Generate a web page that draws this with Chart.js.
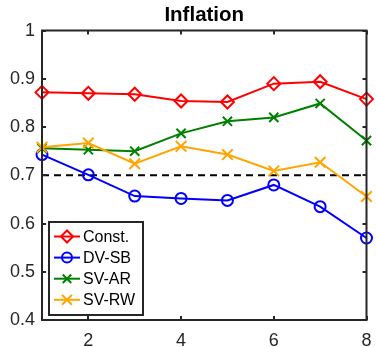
<!DOCTYPE html>
<html>
<head>
<meta charset="utf-8">
<script src="https://cdn.jsdelivr.net/npm/chart.js@4"></script>
<style>
html,body{margin:0;padding:0;background:#fff;}
#wrap{width:376px;height:347px;}
</style>
</head>
<body>
<div id="wrap"><canvas id="c" width="376" height="347"></canvas></div>
<script>
const horizons = [1, 2, 3, 4, 5, 6, 7, 8];
const constVals = [0.872, 0.870, 0.868, 0.854, 0.852, 0.890, 0.894, 0.858];
const dvsbVals  = [0.743, 0.701, 0.657, 0.652, 0.648, 0.680, 0.635, 0.570];
const svarVals  = [0.756, 0.753, 0.750, 0.787, 0.812, 0.820, 0.849, 0.772];
const svrwVals  = [0.758, 0.767, 0.724, 0.760, 0.743, 0.709, 0.727, 0.656];
const refLevel = 0.7;
const seriesNames = ['Const.', 'DV-SB', 'SV-AR', 'SV-RW'];
const xTicks = [2, 4, 6, 8];
const yTicks = [0.4, 0.5, 0.6, 0.7, 0.8, 0.9, 1];
const yTickLabels = ['0.4', '0.5', '0.6', '0.7', '0.8', '0.9', '1'];
const titleText = 'Inflation';

const FONT = "'Liberation Sans', Arial, sans-serif";
const AXC = '#262626';

function pts(vals){ return horizons.map((h,i)=>({x:h, y:vals[i]})); }

const styles = [
  {color:'#ff0000', marker:'rectRot', r:6.5},
  {color:'#0000ff', marker:'circle', r:5.5},
  {color:'#008000', marker:'crossRot', r:6.5},
  {color:'#ffa500', marker:'crossRot', r:7.5}
];
const allVals = [constVals, dvsbVals, svarVals, svrwVals];

const datasets = allVals.map((v,i)=>({
  label: seriesNames[i],
  data: pts(v),
  borderColor: styles[i].color,
  backgroundColor: 'rgba(0,0,0,0)',
  pointBackgroundColor: 'rgba(0,0,0,0)',
  pointBorderColor: styles[i].color,
  pointStyle: styles[i].marker,
  pointRadius: styles[i].r,
  pointBorderWidth: 2,
  borderWidth: 2,
  tension: 0,
  clip: false,
  order: 4 - i
}));
datasets.push({
  label: 'ref',
  data: [{x:horizons[0], y:refLevel},{x:horizons[horizons.length-1], y:refLevel}],
  borderColor: '#000',
  borderDash: [7,5],
  borderWidth: 2,
  pointRadius: 0,
  clip: false,
  order: 5
});

function drawMarker(ctx, style, x, y, r, color){
  ctx.save();
  ctx.strokeStyle = color; ctx.lineWidth = 2;
  ctx.beginPath();
  if (style === 'rectRot'){
    ctx.moveTo(x, y-r); ctx.lineTo(x+r, y); ctx.lineTo(x, y+r); ctx.lineTo(x-r, y); ctx.closePath();
  } else if (style === 'circle'){
    ctx.arc(x, y, r, 0, Math.PI*2);
  } else {
    const d = r*Math.SQRT1_2;
    ctx.moveTo(x-d,y-d); ctx.lineTo(x+d,y+d); ctx.moveTo(x+d,y-d); ctx.lineTo(x-d,y+d);
  }
  ctx.stroke();
  ctx.restore();
}

const boxPlugin = {
  id: 'matlabBox',
  afterDraw(chart){
    const ctx = chart.ctx, a = chart.chartArea;
    const xs = chart.scales.x, ys = chart.scales.y;
    ctx.save();
    ctx.strokeStyle = AXC; ctx.lineWidth = 2;
    ctx.beginPath();
    ctx.rect(a.left, a.top, a.right - a.left, a.bottom - a.top);
    ctx.stroke();
    const tl = 4;
    ctx.beginPath();
    xTicks.forEach(v=>{
      const px = Math.round(xs.getPixelForValue(v));
      ctx.moveTo(px, a.bottom); ctx.lineTo(px, a.bottom - tl);
      ctx.moveTo(px, a.top); ctx.lineTo(px, a.top + tl);
    });
    yTicks.forEach(v=>{
      const py = Math.round(ys.getPixelForValue(v));
      ctx.moveTo(a.left, py); ctx.lineTo(a.left + tl, py);
      ctx.moveTo(a.right, py); ctx.lineTo(a.right - tl, py);
    });
    ctx.stroke();

    // legend
    const lx = a.left + 7, ly = a.bottom - 98, lw = 94, lh = 93;
    ctx.fillStyle = '#fff';
    ctx.fillRect(lx, ly, lw, lh);
    ctx.strokeStyle = AXC; ctx.lineWidth = 2;
    ctx.strokeRect(lx, ly, lw, lh);
    ctx.font = '16px ' + FONT;
    ctx.textBaseline = 'middle';
    ctx.textAlign = 'left';
    seriesNames.forEach((n,i)=>{
      const y = ly + 14.5 + i*21.1;
      ctx.strokeStyle = styles[i].color; ctx.lineWidth = 2;
      ctx.beginPath(); ctx.moveTo(lx+5, y); ctx.lineTo(lx+31, y); ctx.stroke();
      drawMarker(ctx, styles[i].marker, lx+18, y, styles[i].r - 0.5, styles[i].color);
      ctx.fillStyle = '#000';
      ctx.fillText(n, lx + 34, y + 1);
    });
    ctx.restore();
  }
};

new Chart(document.getElementById('c'), {
  type: 'line',
  data: { datasets },
  options: {
    responsive: false,
    animation: false,
    devicePixelRatio: 1,
    layout: { padding: { left: 0, right: 4, top: 0, bottom: 0 } },
    plugins: {
      legend: { display: false },
      tooltip: { enabled: false },
      title: {
        display: true, text: titleText, fullSize: false,
        color: '#000', font: { family: FONT, size: 20.5, weight: 'bold', lineHeight: 1.2 },
        padding: { top: 3, bottom: 3 }
      }
    },
    scales: {
      x: {
        type: 'linear', min: 1, max: 8,
        afterBuildTicks: s => { s.ticks = xTicks.map(v => ({ value: v })); },
        afterFit: s => { s.height = 27; s.paddingRight = 0; s.paddingLeft = 0; },
        grid: { display: false, drawTicks: false },
        border: { display: false },
        ticks: { color: AXC, font: { family: FONT, size: 18 }, padding: 10, maxRotation: 0, autoSkip: false,
                 callback: v => String(v) }
      },
      y: {
        type: 'linear', min: 0.4, max: 1,
        afterBuildTicks: s => { s.ticks = yTicks.map(v => ({ value: v })); },
        afterFit: s => { s.width = 42; s.paddingTop = 0; s.paddingBottom = 0; },
        grid: { display: false, drawTicks: false },
        border: { display: false },
        ticks: { color: AXC, font: { family: FONT, size: 18 }, padding: 7, autoSkip: false,
                 callback: (v) => { const i = yTicks.findIndex(t => Math.abs(t - v) < 1e-9); return i >= 0 ? yTickLabels[i] : ''; } }
      }
    }
  },
  plugins: [boxPlugin]
});
</script>
</body>
</html>
